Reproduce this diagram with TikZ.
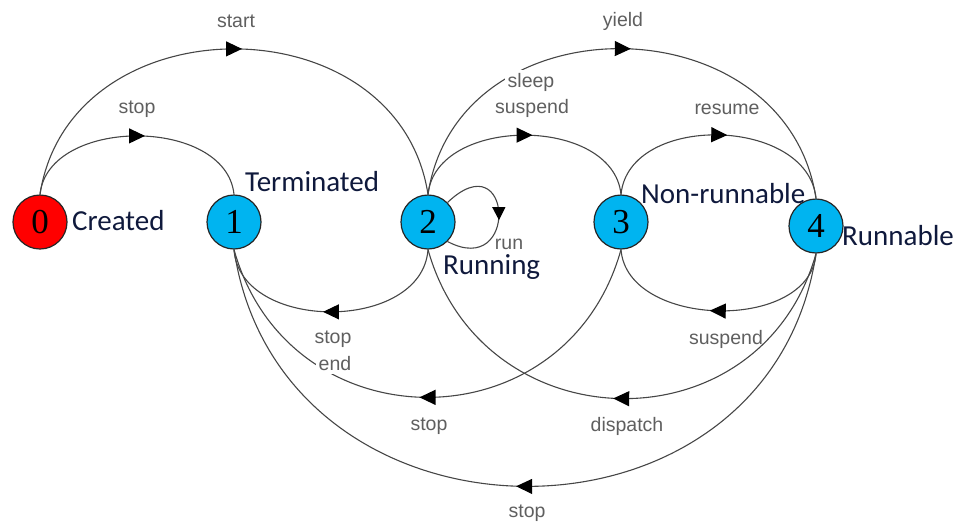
\documentclass[tikz,border=0pt]{standalone}
\usepackage{fontspec}
\setmainfont{Liberation Serif}
\newfontfamily\calibfont{Carlito}
\newfontfamily\edgefont{Liberation Sans}
\usetikzlibrary{arrows.meta,decorations.markings}
\definecolor{stred}{RGB}{255,0,0}
\definecolor{stblue}{RGB}{0,180,240}
\definecolor{navytext}{RGB}{15,25,60}
\definecolor{edgegray}{RGB}{70,70,70}
\definecolor{labgray}{RGB}{95,95,95}
\tikzset{
  state/.style={circle, draw=black!85, line width=1.2pt, minimum size=54pt, inner sep=0pt,
    font=\fontsize{35}{35}\selectfont},
  trans/.style={draw=edgegray, line width=1.1pt, postaction={decorate},
    decoration={markings, mark=at position 0.5 with {\arrow[xshift=8pt,black]{Triangle[length=16pt,width=15pt]}}}},
  looptrans/.style={draw=edgegray, line width=1.1pt, postaction={decorate},
    decoration={markings, mark=at position 0.5 with {\arrow[xshift=6pt,black]{Triangle[length=13pt,width=13pt]}}}},
  elab/.style={font=\edgefont\fontsize{19.5}{20}\selectfont, text=labgray, inner sep=1pt},
  gap/.style={fill=white, inner sep=2.5pt},
  slab/.style={font=\calibfont\fontsize{29}{29}\selectfont, text=navytext, inner sep=0pt, anchor=base west}
}
\begin{document}
\begin{tikzpicture}[x=1pt,y=-1pt]
\useasboundingbox (0,0) rectangle (968,523);
% states
\node[state, fill=stred]  (n0) at (40,222) {0};
\node[state, fill=stblue] (n1) at (234,222) {1};
\node[state, fill=stblue] (n2) at (428,222) {2};
\node[state, fill=stblue] (n3) at (621,222) {3};
\node[state, fill=stblue] (n4) at (816,226) {4};
% upper transitions
\draw[trans] (n0.north) .. controls +(8,-78) and +(-8,-78) .. (n1.north);
\draw[trans] (n0.north) .. controls +(30,-194) and +(-30,-194) .. (n2.north);
\draw[trans] (n2.north) .. controls +(8,-79) and +(-8,-79) .. (n3.north);
\draw[trans] (n2.north) .. controls +(30,-197) and +(-30,-197) .. (n4.north);
\draw[trans] (n3.north) .. controls +(8,-82) and +(-8,-82) .. (n4.north);
% lower transitions
\draw[trans] (n2.south) .. controls +(-6,83) and +(6,83) .. (n1.south);
\draw[trans] (n3.south) .. controls +(-55,197) and +(55,197) .. (n1.south);
\draw[trans] (n4.south) .. controls +(-6,79) and +(6,79) .. (n3.south);
\draw[trans] (n4.south) .. controls +(-55,196) and +(55,196) .. (n2.south);
\draw[trans] (n4.south) .. controls +(-47,313) and +(47,313) .. (n1.south);
% self loop
\draw[looptrans] (n2.45) .. controls +(65,-62) and +(72,38) .. (n2.-45);
% transition labels
\node[elab] (lstart) at (236,21) {start};
\node[elab] (lstop01) at (137,109) {stop};
\node[elab] (lyield) at (623,21) {yield};
\node[elab, gap] (lsleep) at (531,82) {sleep};
\node[elab] (lsusp23) at (532,108) {suspend};
\node[elab] (lresume) at (727,109) {resume};
\node[elab, inner sep=0pt] (lrun) at (509,244) {run};
\node[elab] (lstop21) at (333,339) {stop};
\node[elab, gap] (lend) at (335,364) {end};
\node[elab] (lstop31) at (429,426) {stop};
\node[elab] (lsusp43) at (726,339) {suspend};
\node[elab] (ldispatch) at (627,426) {dispatch};
\node[elab] (lstop41) at (527,513) {stop};
% state names
\node[slab] (tcreated) at (72,230) {Created};
\node[slab] (tterm) at (245,191) {Terminated};
\node[slab] (trunning) at (443,274) {Running};
\node[slab] (tnonrun) at (641,203) {Non-runnable};
\node[slab] (trunnable) at (842,245) {Runnable};
\end{tikzpicture}
\end{document}
